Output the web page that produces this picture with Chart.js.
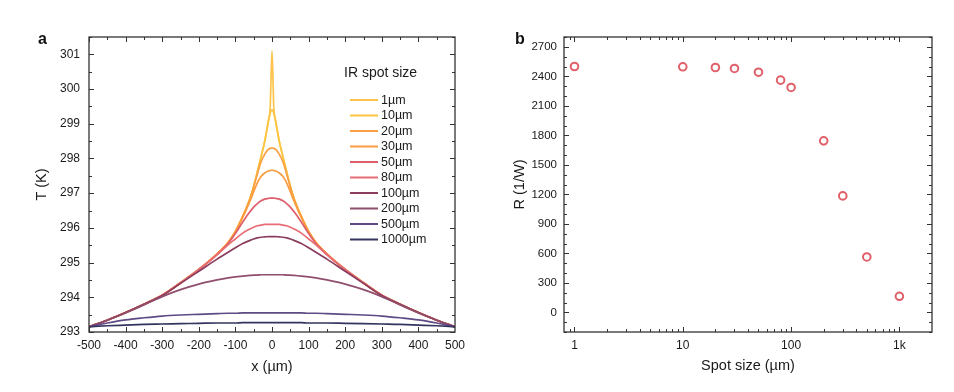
<!DOCTYPE html>
<html>
<head>
<meta charset="utf-8">
<script src="https://cdn.jsdelivr.net/npm/chart.js@4.4.1/dist/chart.umd.min.js"></script>
<style>
	body { margin: 0; background: #fff; width: 954px; height: 392px; overflow: hidden; position: relative; }
	canvas { position: absolute; top: 0; }
	#temp-chart { left: 0; }
	#spot-chart { left: 477px; }
</style>
</head>
<body>
<canvas id="temp-chart" width="477" height="392"></canvas>
<canvas id="spot-chart" width="477" height="392"></canvas>
<script>
'use strict';

// panel a: temperature profile along x for each IR spot size
const xPositions = [-500, -450, -400, -350, -300, -250, -200, -150, -120, -100, -80, -60, -50, -40, -30, -20, -10, -5, 0,
	5, 10, 20, 30, 40, 50, 60, 80, 100, 120, 150, 200, 250, 300, 350, 400, 450, 500];

const spotLabels = ['1µm', '10µm', '20µm', '30µm', '50µm', '80µm', '100µm', '200µm', '500µm', '1000µm'];
const spotColors = ['#fdc34c', '#fcc540', '#f9a044', '#fa9c40', '#de5e6b', '#e86d76', '#8a3d5e', '#8f4e6d', '#5e4b86', '#34345e'];

const temp1um = [293.15, 293.34, 293.56, 293.80, 294.06, 294.42, 294.80, 295.25, 295.58, 295.90, 296.33, 296.85, 297.20, 297.62, 298.05, 298.50, 299.10, 299.45, 301.10,
	299.45, 299.10, 298.50, 298.05, 297.62, 297.20, 296.85, 296.33, 295.90, 295.58, 295.25, 294.80, 294.42, 294.06, 293.80, 293.56, 293.34, 293.15];
const temp10um = [293.15, 293.34, 293.56, 293.80, 294.06, 294.42, 294.80, 295.25, 295.58, 295.90, 296.33, 296.85, 297.20, 297.62, 298.04, 298.48, 299.05, 299.30, 299.40,
	299.30, 299.05, 298.48, 298.04, 297.62, 297.20, 296.85, 296.33, 295.90, 295.58, 295.25, 294.80, 294.42, 294.06, 293.80, 293.56, 293.34, 293.15];
const temp20um = [293.15, 293.34, 293.56, 293.80, 294.06, 294.42, 294.80, 295.25, 295.58, 295.90, 296.33, 296.84, 297.18, 297.55, 297.90, 298.12, 298.26, 298.29, 298.30,
	298.29, 298.26, 298.12, 297.90, 297.55, 297.18, 296.84, 296.33, 295.90, 295.58, 295.25, 294.80, 294.42, 294.06, 293.80, 293.56, 293.34, 293.15];
const temp30um = [293.15, 293.34, 293.56, 293.80, 294.06, 294.42, 294.80, 295.25, 295.58, 295.89, 296.30, 296.78, 297.04, 297.30, 297.48, 297.58, 297.64, 297.65, 297.66,
	297.65, 297.64, 297.58, 297.48, 297.30, 297.04, 296.78, 296.30, 295.89, 295.58, 295.25, 294.80, 294.42, 294.06, 293.80, 293.56, 293.34, 293.15];
const temp50um = [293.15, 293.34, 293.56, 293.80, 294.06, 294.42, 294.80, 295.24, 295.55, 295.84, 296.17, 296.47, 296.60, 296.70, 296.78, 296.83, 296.85, 296.86, 296.86,
	296.86, 296.85, 296.83, 296.78, 296.70, 296.60, 296.47, 296.17, 295.84, 295.55, 295.24, 294.80, 294.42, 294.06, 293.80, 293.56, 293.34, 293.15];
const temp80um = [293.15, 293.34, 293.56, 293.80, 294.06, 294.41, 294.79, 295.22, 295.51, 295.68, 295.85, 295.97, 296.02, 296.06, 296.08, 296.10, 296.10, 296.10, 296.10,
	296.10, 296.10, 296.10, 296.08, 296.06, 296.02, 295.97, 295.85, 295.68, 295.51, 295.22, 294.79, 294.41, 294.06, 293.80, 293.56, 293.34, 293.15];
const temp100um = [293.15, 293.34, 293.56, 293.80, 294.05, 294.40, 294.75, 295.10, 295.30, 295.43, 295.55, 295.64, 295.68, 295.71, 295.73, 295.74, 295.75, 295.75, 295.75,
	295.75, 295.75, 295.74, 295.73, 295.71, 295.68, 295.64, 295.55, 295.43, 295.30, 295.10, 294.75, 294.40, 294.05, 293.80, 293.56, 293.34, 293.15];
const temp200um = [293.15, 293.34, 293.55, 293.78, 294.02, 294.22, 294.38, 294.50, 294.56, 294.59, 294.61, 294.63, 294.64, 294.64, 294.65, 294.65, 294.65, 294.65, 294.65,
	294.65, 294.65, 294.65, 294.65, 294.64, 294.64, 294.63, 294.61, 294.59, 294.56, 294.50, 294.38, 294.22, 294.02, 293.78, 293.55, 293.34, 293.15];
const temp500um = [293.15, 293.26, 293.35, 293.41, 293.46, 293.49, 293.51, 293.53, 293.54, 293.54, 293.55, 293.55, 293.55, 293.55, 293.55, 293.55, 293.55, 293.55, 293.55,
	293.55, 293.55, 293.55, 293.55, 293.55, 293.55, 293.55, 293.55, 293.54, 293.54, 293.53, 293.51, 293.49, 293.46, 293.41, 293.35, 293.26, 293.15];
const temp1000um = [293.15, 293.18, 293.20, 293.22, 293.23, 293.24, 293.25, 293.26, 293.26, 293.26, 293.27, 293.27, 293.27, 293.27, 293.27, 293.27, 293.27, 293.27, 293.27,
	293.27, 293.27, 293.27, 293.27, 293.27, 293.27, 293.27, 293.27, 293.26, 293.26, 293.26, 293.25, 293.24, 293.23, 293.22, 293.20, 293.18, 293.15];

const tempSeries = [temp1um, temp10um, temp20um, temp30um, temp50um, temp80um, temp100um, temp200um, temp500um, temp1000um];

// panel b: responsivity against spot size
const spotSizes = [1, 10, 20, 30, 50, 80, 100, 200, 300, 500, 1000];
const responsivity = [2500, 2497, 2490, 2480, 2442, 2361, 2287, 1744, 1184, 563, 163];

const spotTickValues = [1, 10, 100, 1000];
const spotTickLabels = ['1', '10', '100', '1k'];

const FONT = "'Liberation Sans', Arial, Helvetica, sans-serif";
Chart.defaults.font.family = FONT;
Chart.defaults.color = '#1a1a1a';

/**
 * Draws the plot frame and inward tick marks on all four sides
 */
const frameTicks = {
	id: 'frameTicks',
	afterDatasetsDraw(chart, args, opts) {
		const ctx = chart.ctx;
		const area = chart.chartArea;
		const xs = chart.scales.x;
		const ys = chart.scales.y;

		ctx.save();
		ctx.strokeStyle = '#333';
		ctx.lineWidth = 1.3;
		ctx.strokeRect(area.left, area.top, area.right - area.left, area.bottom - area.top);

		ctx.lineWidth = 1;
		ctx.beginPath();
		for (const t of xs.ticks) {
			const px = Math.round(xs.getPixelForValue(t.value)) + 0.5;
			if (px < area.left || px > area.right) continue;
			const len = opts.majorX(t.value) ? 5 : 3;
			ctx.moveTo(px, area.bottom);
			ctx.lineTo(px, area.bottom - len);
			ctx.moveTo(px, area.top);
			ctx.lineTo(px, area.top + len);
		}
		for (const t of ys.ticks) {
			const py = Math.round(ys.getPixelForValue(t.value)) + 0.5;
			if (py < area.top - 1 || py > area.bottom + 1) continue;
			const len = opts.majorY(t.value) ? 5 : 3;
			ctx.moveTo(area.left, py);
			ctx.lineTo(area.left + len, py);
			ctx.moveTo(area.right, py);
			ctx.lineTo(area.right - len, py);
		}
		ctx.stroke();

		// panel letter
		ctx.fillStyle = '#111';
		ctx.font = 'bold 16px ' + FONT;
		ctx.textAlign = 'left';
		ctx.textBaseline = 'alphabetic';
		ctx.fillText(opts.letter, opts.letterX, 44);
		ctx.restore();
	}
};

/**
 * Legend drawn inside the plot area of panel a
 */
const spotLegend = {
	id: 'spotLegend',
	afterDraw(chart, args, opts) {
		const ctx = chart.ctx;
		ctx.save();
		ctx.fillStyle = '#1a1a1a';
		ctx.textAlign = 'left';
		ctx.textBaseline = 'middle';
		ctx.font = '14px ' + FONT;
		ctx.fillText(opts.title, 344, 73);

		ctx.font = '12.5px ' + FONT;
		chart.data.datasets.forEach(function (ds, i) {
			const y = 100 + i * 15.5;
			ctx.strokeStyle = ds.borderColor;
			ctx.lineWidth = 2;
			ctx.beginPath();
			ctx.moveTo(350, y);
			ctx.lineTo(378, y);
			ctx.stroke();
			ctx.fillText(ds.label, 381, y + 0.5);
		});
		ctx.restore();
	}
};

function tempChart() {
	const datasets = tempSeries.map(function (values, i) {
		return {
			label: spotLabels[i],
			data: xPositions.map((x, j) => ({ x: x, y: values[j] })),
			borderColor: spotColors[i],
			borderWidth: 1.7,
			pointRadius: 0,
			cubicInterpolationMode: 'monotone',
			order: tempSeries.length - i
		};
	});

	new Chart(document.getElementById('temp-chart'), {
		type: 'line',
		data: { datasets: datasets },
		options: {
			responsive: false,
			animation: false,
			layout: { padding: { top: 37, right: 22, left: 0, bottom: 0 } },
			plugins: {
				legend: { display: false },
				tooltip: { enabled: false },
				frameTicks: {
					letter: 'a', letterX: 38,
					majorX: v => v % 100 === 0,
					majorY: v => Number.isInteger(v)
				},
				spotLegend: { title: 'IR spot size' }
			},
			scales: {
				x: {
					type: 'linear',
					min: -500,
					max: 500,
					grid: { display: false, drawTicks: false },
					border: { display: false },
					ticks: {
						stepSize: 50, autoSkip: false, maxRotation: 0, padding: 6,
						font: { size: 12 },
						callback: v => (v % 100 === 0 ? String(v) : '')
					},
					title: { display: true, text: 'x (µm)', font: { size: 14.5 }, padding: { top: 0, bottom: 16 } },
					afterFit: s => { s.height = 60; }
				},
				y: {
					min: 293,
					max: 301.5,
					grid: { display: false, drawTicks: false },
					border: { display: false },
					ticks: {
						stepSize: 0.5, autoSkip: false, padding: 9,
						font: { size: 12 },
						callback: v => (Number.isInteger(v) ? String(v) : '')
					},
					title: { display: true, text: 'T (K)', font: { size: 14.5 }, padding: { top: 33, bottom: 0 } },
					afterFit: s => { s.width = 89; }
				}
			}
		},
		plugins: [frameTicks, spotLegend]
	});
}

function spotChart() {
	let minorTicks = [0.9];
	for (const decade of [1, 10, 100]) {
		for (let k = 1; k <= 9; k++) minorTicks.push(k * decade);
	}
	minorTicks.push(1000, 2000);

	new Chart(document.getElementById('spot-chart'), {
		type: 'scatter',
		data: {
			datasets: [{
				label: 'R',
				data: spotSizes.map((s, i) => ({ x: s, y: responsivity[i] })),
				pointStyle: 'circle',
				pointRadius: 3.8,
				pointBorderWidth: 2,
				borderColor: '#e0606a',
				backgroundColor: 'rgba(255,255,255,0)'
			}]
		},
		options: {
			responsive: false,
			animation: false,
			layout: { padding: { top: 37, right: 22, left: 0, bottom: 0 } },
			plugins: {
				legend: { display: false },
				tooltip: { enabled: false },
				frameTicks: {
					letter: 'b', letterX: 38,
					majorX: v => spotTickValues.includes(v),
					majorY: v => v % 300 === 0 && v >= 0 && v <= 2700
				}
			},
			scales: {
				x: {
					type: 'logarithmic',
					min: 0.8,
					max: 2000,
					grid: { display: false, drawTicks: false },
					border: { display: false },
					afterBuildTicks: s => { s.ticks = minorTicks.map(v => ({ value: v })); },
					ticks: {
						autoSkip: false, maxRotation: 0, padding: 6,
						font: { size: 12 },
						callback: function (v) {
							const i = spotTickValues.indexOf(v);
							return i >= 0 ? spotTickLabels[i] : '';
						}
					},
					title: { display: true, text: 'Spot size (µm)', font: { size: 14.5 }, padding: { top: 0, bottom: 17 } },
					afterFit: s => { s.height = 60; }
				},
				y: {
					min: -200,
					max: 2800,
					grid: { display: false, drawTicks: false },
					border: { display: false },
					ticks: {
						stepSize: 100, autoSkip: false, padding: 7,
						font: { size: 11.5 },
						callback: v => (v % 300 === 0 && v >= 0 && v <= 2700 ? String(v) : '')
					},
					title: { display: true, text: 'R (1/W)', font: { size: 14.5 }, padding: { top: 34, bottom: 0 } },
					afterFit: s => { s.width = 87; }
				}
			}
		},
		plugins: [frameTicks]
	});
}

tempChart();
spotChart();
</script>
</body>
</html>
